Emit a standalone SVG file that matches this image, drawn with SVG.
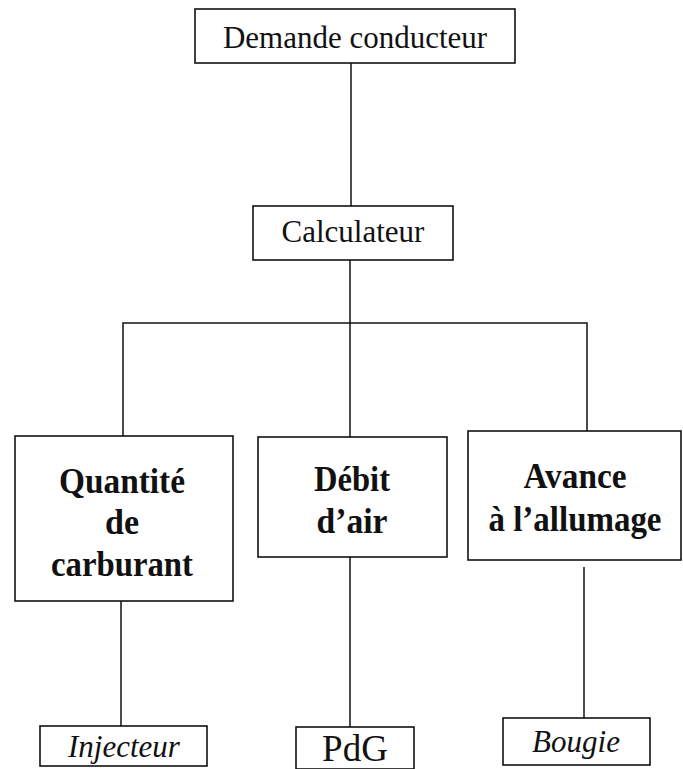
<svg xmlns="http://www.w3.org/2000/svg" width="683" height="769" viewBox="0 0 683 769">
<style>
.box{fill:#fff;stroke:#111;stroke-width:1.6}
.ln{stroke:#111;stroke-width:1.5;fill:none}
text{font-family:"Liberation Serif","Times New Roman",serif;fill:#111;text-anchor:middle}
.b{font-weight:bold;font-size:35px}
.r{font-size:31px}
.i{font-style:italic;font-size:31px}
</style>
<rect width="683" height="769" fill="#fff"/>
<g id="connectors">
<path class="ln" d="M351 63V206"/>
<path class="ln" d="M350 260V437"/>
<path class="ln" d="M123 436V323H587V431"/>
<path class="ln" d="M121 601V726"/>
<path class="ln" d="M350 557V727"/>
<path class="ln" d="M584 567V718"/>
</g>
<g id="demande"><rect class="box" x="195" y="9" width="320" height="54"/><text class="r" x="355" y="48">Demande conducteur</text></g>
<g id="calculateur"><rect class="box" x="253" y="206" width="200" height="54"/><text class="r" x="353" y="242">Calculateur</text></g>
<g id="quantite"><rect class="box" x="15" y="436" width="218" height="165"/><text class="b" x="122" y="493" textLength="126" lengthAdjust="spacingAndGlyphs">Quantité</text><text class="b" x="122" y="534" textLength="34" lengthAdjust="spacingAndGlyphs">de</text><text class="b" x="122" y="576" textLength="142" lengthAdjust="spacingAndGlyphs">carburant</text></g>
<g id="debit"><rect class="box" x="258" y="437" width="189" height="120"/><text class="b" x="352" y="491" textLength="76" lengthAdjust="spacingAndGlyphs">Débit</text><text class="b" x="352" y="533" textLength="71" lengthAdjust="spacingAndGlyphs">d’air</text></g>
<g id="avance"><rect class="box" x="468" y="431" width="213" height="129"/><text class="b" x="575" y="488" textLength="103" lengthAdjust="spacingAndGlyphs">Avance</text><text class="b" x="575" y="531" textLength="173" lengthAdjust="spacingAndGlyphs">à l’allumage</text></g>
<g id="injecteur"><rect class="box" x="40" y="726" width="167" height="40"/><text class="i" x="124" y="757">Injecteur</text></g>
<g id="pdg"><rect class="box" x="296" y="727" width="118" height="42"/><text class="r" x="355" y="761" style="font-size:37px">PdG</text></g>
<g id="bougie"><rect class="box" x="503" y="718" width="147" height="47"/><text class="i" x="576" y="752">Bougie</text></g>
</svg>
